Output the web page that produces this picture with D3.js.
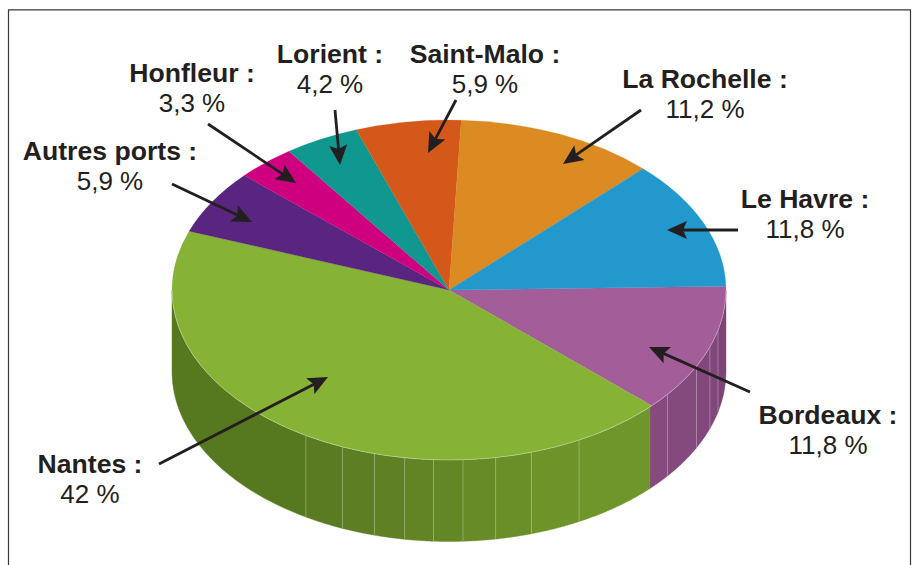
<!DOCTYPE html>
<meta charset="utf-8">
<script src="https://d3js.org/d3.v7.min.js"></script>
<style>
  html, body { margin: 0; padding: 0; background: #fff; }
  svg { display: block; }
  text { font-family: "Liberation Sans", Arial, sans-serif; fill: #231f20; text-anchor: middle; }
  .name { font-weight: bold; font-size: 26.6px; }
  .value { font-size: 26px; }
</style>
<body></body>
<script>

// values, clockwise from the right edge of the pie
var ports = ["Bordeaux", "Nantes", "Autres ports", "Honfleur", "Lorient", "Saint-Malo", "La Rochelle", "Le Havre"];
var shares = [11.8, 42, 5.9, 3.3, 4.2, 5.9, 11.2, 11.8];
var shareLabels = ["11,8 %", "42 %", "5,9 %", "3,3 %", "4,2 %", "5,9 %", "11,2 %", "11,8 %"];
var topColors = ["#a35d98", "#86b336", "#5a2580", "#cf007f", "#109790", "#d4581a", "#dc8a22", "#2398cd"];

// where the 3D wall is cut in strips, degrees clockwise from 3 o'clock, with strip colour
var wallCuts = [0, 13.8, 19.6, 26.7, 37.9, 43.5, 62, 72.7, 80.3, 87.1, 93.2, 99.2, 105.6, 112.6, 121.1, 180];
var wallColors = ["#7d4574", "#80477a", "#82487b", "#84497d", "#864a7f",
                  "#6f962a", "#6d9329", "#6a8f28", "#678b26", "#648725",
                  "#628424", "#5f8123", "#5d7e22", "#5a7b21", "#56781f"];

// label layout: label centre / first baseline, arrow tail and tip
var labelX = [828, 90, 110, 192, 330, 485, 705, 805];
var labelY = [424, 473, 160, 82, 63, 63, 88, 208];
var arrows = [
  [750, 392, 649, 347], [159, 464, 328, 377], [172, 184, 252, 222], [208, 124, 296, 183],
  [335, 110, 340, 165], [456, 100, 428, 153], [641, 110, 563, 164], [738, 230, 667, 230]
];

var width = 915, height = 565;
var rx = 277, ry = 170, cx = 449, cy = 290, depth = 81.5;
var startDeg = -1.3;

var x = d3.scaleLinear().domain([-1, 1]).range([cx - rx, cx + rx]);
var y = d3.scaleLinear().domain([-1, 1]).range([cy - ry, cy + ry]);
var rad = function(d) { return d * Math.PI / 180; };

var svg = d3.select("body").append("svg")
    .attr("width", width)
    .attr("height", height);

// frame, open at the bottom of the crop
svg.append("path")
    .attr("d", "M8.5," + height + "V9.8H910.5V" + height)
    .attr("fill", "none")
    .attr("stroke", "#3a3a3a")
    .attr("stroke-width", 1.2);

// wall strips
var line = d3.line().x(function(d) { return d[0]; }).y(function(d) { return d[1]; });
function wallPoints(a0, a1, drop) {
  return d3.range(0, 41).map(function(i) {
    var a = rad(a0 + (a1 - a0) * i / 40);
    return [x(Math.cos(a)), y(Math.sin(a)) + drop];
  });
}
var wall = svg.append("g").attr("class", "wall");
wall.selectAll("path")
  .data(d3.pairs(wallCuts))
  .enter().append("path")
    .attr("d", function(d) {
      return line(wallPoints(d[0], d[1], 0).concat(wallPoints(d[1], d[0], depth))) + "Z";
    })
    .attr("fill", function(d, i) { return wallColors[i]; })
    .attr("stroke", function(d, i) { return wallColors[i]; })
    .attr("stroke-width", 0.4);

// pale seams between strips
wall.selectAll("line")
  .data(wallCuts.slice(1, -1).filter(function(d) { return d !== 43.5; }))
  .enter().append("line")
    .attr("x1", function(d) { return x(Math.cos(rad(d))); })
    .attr("x2", function(d) { return x(Math.cos(rad(d))); })
    .attr("y1", function(d) { return y(Math.sin(rad(d))); })
    .attr("y2", function(d) { return y(Math.sin(rad(d))) + depth; })
    .attr("stroke", "#fff")
    .attr("stroke-opacity", 0.35)
    .attr("stroke-width", 0.8);

// top of the pie
var pie = d3.pie().sort(null)
    .startAngle(rad(startDeg + 90))
    .endAngle(rad(startDeg + 450));
var arc = d3.arc().innerRadius(0).outerRadius(rx);

svg.append("g")
    .attr("transform", "translate(" + cx + "," + cy + ") scale(1," + (ry / rx) + ")")
  .selectAll("path")
  .data(pie(shares))
  .enter().append("path")
    .attr("d", arc)
    .attr("fill", function(d, i) { return topColors[i]; })
    .attr("stroke", function(d, i) { return topColors[i]; })
    .attr("stroke-width", 0.3);

// thin light rim where the top meets the wall
svg.append("path")
    .attr("d", line(wallPoints(0, 180, 0)))
    .attr("fill", "none")
    .attr("stroke", "#fff")
    .attr("stroke-opacity", 0.45)
    .attr("stroke-width", 0.7);

// arrows
var arrow = svg.append("g").selectAll("g")
  .data(arrows)
  .enter().append("g")
    .attr("transform", function(d) {
      var angle = Math.atan2(d[3] - d[1], d[2] - d[0]) * 180 / Math.PI;
      return "translate(" + d[2] + "," + d[3] + ") rotate(" + angle + ")";
    });
arrow.append("line")
    .attr("x1", function(d) { return -Math.hypot(d[2] - d[0], d[3] - d[1]); })
    .attr("x2", -12)
    .attr("stroke", "#231f20")
    .attr("stroke-width", 2.8);
arrow.append("path")
    .attr("d", "M0,0L-20,-9L-16,0L-20,9Z")
    .attr("fill", "#231f20");

// labels
var label = svg.append("g").selectAll("g")
  .data(ports)
  .enter().append("g");
label.append("text")
    .attr("class", "name")
    .attr("x", function(d, i) { return labelX[i]; })
    .attr("y", function(d, i) { return labelY[i]; })
    .text(function(d) { return d + " :"; });
label.append("text")
    .attr("class", "value")
    .attr("x", function(d, i) { return labelX[i]; })
    .attr("y", function(d, i) { return labelY[i] + 30; })
    .text(function(d, i) { return shareLabels[i]; });

</script>
